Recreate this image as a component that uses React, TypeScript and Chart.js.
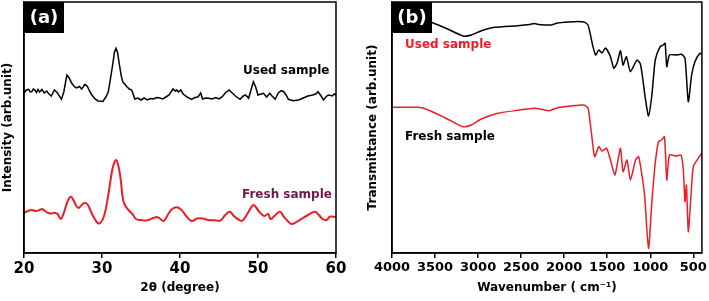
import React, { useEffect, useRef } from "react";
import { Chart, registerables } from "chart.js";

Chart.register(...registerables);

// ---------- Data: panel (a) XRD ----------
const usedXrdAngle = [20.0, 20.3, 20.6, 20.8, 21.0, 21.2, 21.4, 21.6, 21.8, 22.0, 22.3, 22.6, 22.9, 23.2, 23.5, 23.9, 24.3, 24.8, 25.1, 25.5, 25.8, 26.1, 26.5, 26.75, 27.1, 27.4, 27.8, 28.1, 28.4, 28.7, 29.1, 29.5, 30.1, 30.5, 30.8, 31.1, 31.4, 31.6, 31.8, 32.0, 32.2, 32.45, 32.65, 32.9, 33.2, 33.5, 33.8, 34.0, 34.2, 34.6, 35.0, 35.4, 35.8, 36.2, 36.6, 37.0, 37.4, 37.8, 38.2, 38.6, 39.1, 39.4, 39.6, 39.8, 40.1, 40.4, 40.9, 41.5, 41.9, 42.3, 42.65, 42.9, 43.3, 43.7, 44.1, 44.6, 45.0, 45.4, 45.8, 46.3, 46.7, 47.1, 47.7, 48.1, 48.4, 48.8, 49.1, 49.4, 49.7, 50.0, 50.4, 50.7, 51.1, 51.5, 51.8, 52.2, 52.6, 53.0, 53.3, 53.6, 53.9, 54.5, 55.2, 55.8, 56.4, 57.0, 57.4, 57.7, 58.0, 58.4, 58.8, 59.1, 59.5, 59.8, 60.0];
const usedXrdIntensity = [160, 163, 163.7, 161, 161.3, 164, 163, 160.5, 163.5, 161, 163.5, 160, 162, 159, 157, 163, 160, 153.7, 161, 178, 175, 170, 166, 165, 166.5, 164, 168.5, 167, 162, 158, 154, 152, 151.5, 156, 161, 175, 190, 201, 204.7, 200, 190, 178, 171.3, 169, 166.3, 164, 163, 159, 154, 155, 153, 155, 153, 154.5, 154, 155.5, 155, 154, 156, 158, 164, 162, 163, 161, 163, 159, 156, 153.7, 155.5, 156, 160, 154, 155, 154.7, 154, 155.5, 154, 156, 160, 163, 160, 157, 153.7, 157, 158, 154.7, 163, 171.3, 166, 158, 159, 159.7, 156, 159.7, 157, 153.7, 160, 162.3, 161.3, 158, 153.7, 152.3, 153, 155, 157, 158, 159, 161.3, 158, 153, 157, 158, 157, 159, 158];

const freshXrdAngle = [20.0, 20.5, 21.0, 21.5, 22.0, 22.3, 22.7, 23.1, 23.5, 23.9, 24.3, 24.7, 25.1, 25.6, 26.0, 26.4, 26.7, 27.0, 27.4, 27.8, 28.2, 28.6, 29.0, 29.5, 29.9, 30.3, 30.7, 31.1, 31.4, 31.8, 32.1, 32.4, 32.7, 33.0, 33.4, 33.9, 34.4, 35.0, 35.6, 36.1, 36.6, 37.0, 37.4, 37.9, 38.5, 39.0, 39.6, 40.2, 40.8, 41.5, 42.2, 42.9, 43.6, 44.4, 45.2, 45.8, 46.4, 46.9, 47.5, 48.0, 48.7, 49.4, 49.9, 50.3, 50.8, 51.3, 51.6, 52.1, 52.8, 53.3, 53.8, 54.3, 55.0, 55.7, 56.4, 57.3, 57.8, 58.3, 58.8, 59.2, 59.6, 60.0];
const freshXrdIntensity = [40, 42, 43, 42, 43, 44, 42, 40, 39.5, 40.3, 39, 34, 40, 52, 56.3, 52, 47, 45, 48, 50.3, 48, 41, 35, 29.7, 31, 38, 53, 73, 86, 93, 87, 73, 53, 47, 43, 39, 33.7, 33, 32.5, 33.5, 35, 36, 34.5, 32, 39, 44, 45.7, 43, 37, 32, 34.5, 34.5, 33, 32.7, 32.7, 38, 41.3, 37, 33.5, 32.3, 40, 48, 44, 40, 37, 39, 34, 37, 41.3, 36.3, 32, 29, 31.3, 34.7, 38, 41.3, 38, 34, 33, 36.3, 36.3, 36];

const xrdTicks = [20, 30, 40, 50, 60];

// ---------- Data: panel (b) FTIR ----------
const usedFtirWavenumber = [4000, 3700, 3600, 3520, 3347, 3174, 3077, 2962, 2808, 2539, 2400, 2346, 2300, 2154, 2077, 1885, 1770, 1723, 1674, 1635, 1597, 1560, 1520, 1462, 1424, 1385, 1346, 1316, 1277, 1231, 1154, 1115, 1085, 1058, 1020, 981, 942, 885, 850, 827, 808, 777, 700, 635, 596, 558, 519, 481, 423, 400];
const usedFtirTransmittance = [231, 231, 232, 230, 223.7, 217, 218, 222.3, 225.7, 227.3, 228.5, 229.5, 228.5, 228, 230, 231.3, 231, 228, 209.7, 198, 203, 200, 205, 196.3, 184.7, 190, 202.3, 188, 196.3, 181.3, 193, 189, 173, 155, 137, 158, 193, 206.3, 208, 209.7, 186.3, 198, 198, 198.7, 194.7, 151.3, 178, 191.3, 199.7, 199];

const freshFtirWavenumber = [4000, 3692, 3577, 3385, 3174, 3077, 2962, 2770, 2539, 2346, 2250, 2173, 2077, 1923, 1770, 1723, 1685, 1646, 1597, 1560, 1508, 1462, 1412, 1385, 1346, 1316, 1270, 1231, 1170, 1135, 1097, 1066, 1020, 981, 942, 904, 870, 835, 808, 777, 700, 642, 616, 596, 580, 558, 530, 500, 442, 400];
const freshFtirTransmittance = [145.7, 145.7, 143, 135.3, 126.3, 128, 134, 139.7, 142.7, 144.7, 143.5, 142.3, 145.3, 147, 148, 144.7, 121.3, 96.3, 106.3, 102, 104.7, 93, 78, 88, 104.7, 81.3, 93, 73, 93, 96.3, 78, 58, 4.7, 51.3, 90, 111.3, 113, 116.3, 73, 98, 97, 98, 83, 51.3, 68, 21.3, 53, 86.3, 94.7, 100];

const ftirTicks = [4000, 3500, 3000, 2500, 2000, 1500, 1000, 500];

const FONT = "'DejaVu Sans', 'Noto Sans', sans-serif";
const RED = "#ee1c24";

type Note = { text: string; dx: number; y: number; color: string };

function zip(xs: number[], ys: number[]) {
  return xs.map((x, i) => ({ x, y: ys[i] }));
}

function framePlugin(tag: string, notes: Note[]) {
  return {
    id: "frame" + tag,
    afterDraw(chart: any) {
      const { ctx, chartArea } = chart;
      const { left, top, right, bottom } = chartArea;
      ctx.save();
      ctx.strokeStyle = "#000";
      ctx.lineWidth = 1.5;
      ctx.strokeRect(left, top, right - left, bottom - top);
      // tag box
      ctx.fillStyle = "#000";
      ctx.fillRect(left, top, 40, 31);
      ctx.fillStyle = "#fff";
      ctx.font = `bold 18px ${FONT}`;
      ctx.textAlign = "center";
      ctx.textBaseline = "middle";
      ctx.fillText(tag, left + 20, top + 16);
      // notes
      ctx.font = `bold 12px ${FONT}`;
      ctx.textAlign = "left";
      for (const n of notes) {
        ctx.fillStyle = n.color;
        ctx.fillText(n.text, left + n.dx, n.y);
      }
      ctx.restore();
    },
  };
}

function baseScales(
  xMin: number,
  xMax: number,
  ticks: number[],
  reverse: boolean,
  tickSize: number,
  xTitle: string,
  yTitle: string,
  yWidth: number,
  yTitlePad: number
) {
  return {
    x: {
      type: "linear",
      min: xMin,
      max: xMax,
      reverse,
      afterBuildTicks: (s: any) => {
        s.ticks = ticks.map((v) => ({ value: v }));
      },
      afterFit: (s: any) => {
        s.height = 48;
      },
      ticks: {
        color: "#000",
        font: { family: FONT, size: tickSize, weight: "bold" },
        padding: 2,
        maxRotation: 0,
        autoSkip: false,
        callback: (v: any) => String(v),
      },
      grid: {
        display: true,
        drawOnChartArea: false,
        drawTicks: true,
        tickLength: 5,
        color: "#000",
        lineWidth: 1.5,
      },
      border: { display: true, color: "#000", width: 1.5 },
      title: {
        display: true,
        text: xTitle,
        color: "#000",
        font: { family: FONT, size: 12, weight: "bold" },
        padding: { top: 0, bottom: 6 },
      },
    },
    y: {
      type: "linear",
      min: 0,
      max: 251,
      afterFit: (s: any) => {
        s.width = yWidth;
      },
      ticks: { display: false },
      grid: { display: false },
      border: { display: true, color: "#000", width: 1.5 },
      title: {
        display: true,
        text: yTitle,
        color: "#000",
        font: { family: FONT, size: 12, weight: "bold" },
        padding: { top: yTitlePad, bottom: 0 },
      },
    },
  };
}

export default function App() {
  const refA = useRef<HTMLCanvasElement>(null);
  const refB = useRef<HTMLCanvasElement>(null);

  useEffect(() => {
    const chartA = new Chart(refA.current as HTMLCanvasElement, {
      type: "line",
      data: {
        datasets: [
          {
            label: "Used sample",
            data: zip(usedXrdAngle, usedXrdIntensity),
            borderColor: "#000",
            borderWidth: 1.5,
            pointRadius: 0,
            tension: 0,
          },
          {
            label: "Fresh sample",
            data: zip(freshXrdAngle, freshXrdIntensity),
            borderColor: RED,
            borderWidth: 2,
            pointRadius: 0,
            tension: 0.4,
          },
        ],
      },
      options: {
        responsive: false,
        animation: false,
        layout: { padding: { top: 2, right: 14, left: 0, bottom: 0 } },
        plugins: { legend: { display: false }, tooltip: { enabled: false } },
        scales: baseScales(20, 60, xrdTicks, false, 15, "2θ (degree)", "Intensity (arb.unit)", 24, 1) as any,
      },
      plugins: [
        framePlugin("(a)", [
          { text: "Used sample", dx: 219, y: 71, color: "#000" },
          { text: "Fresh sample", dx: 218, y: 195, color: "#6e1a4e" },
        ]),
      ],
    });

    const chartB = new Chart(refB.current as HTMLCanvasElement, {
      type: "line",
      data: {
        datasets: [
          {
            label: "Used sample",
            data: zip(usedFtirWavenumber, usedFtirTransmittance),
            borderColor: "#000",
            borderWidth: 1.5,
            pointRadius: 0,
            tension: 0.2,
          },
          {
            label: "Fresh sample",
            data: zip(freshFtirWavenumber, freshFtirTransmittance),
            borderColor: RED,
            borderWidth: 1.5,
            pointRadius: 0,
            tension: 0.2,
          },
        ],
      },
      options: {
        responsive: false,
        animation: false,
        layout: { padding: { top: 2, right: 5, left: 0, bottom: 0 } },
        plugins: { legend: { display: false }, tooltip: { enabled: false } },
        scales: baseScales(400, 4000, ftirTicks, true, 13, "Wavenumber ( cm⁻¹)", "Transmittance (arb.unit)", 42, 16) as any,
      },
      plugins: [
        framePlugin("(b)", [
          { text: "Used sample", dx: 13, y: 45, color: RED },
          { text: "Fresh sample", dx: 13, y: 137, color: "#000" },
        ]),
      ],
    });

    return () => {
      chartA.destroy();
      chartB.destroy();
    };
  }, []);

  return (
    <div
      style={{
        position: "fixed",
        left: 0,
        top: 0,
        width: 709,
        height: 301,
        background: "#fff",
      }}
    >
      <canvas
        ref={refA}
        width={350}
        height={301}
        style={{ position: "absolute", left: 0, top: 0, width: 350, height: 301 }}
      />
      <canvas
        ref={refB}
        width={359}
        height={301}
        style={{ position: "absolute", left: 350, top: 0, width: 359, height: 301 }}
      />
    </div>
  );
}
